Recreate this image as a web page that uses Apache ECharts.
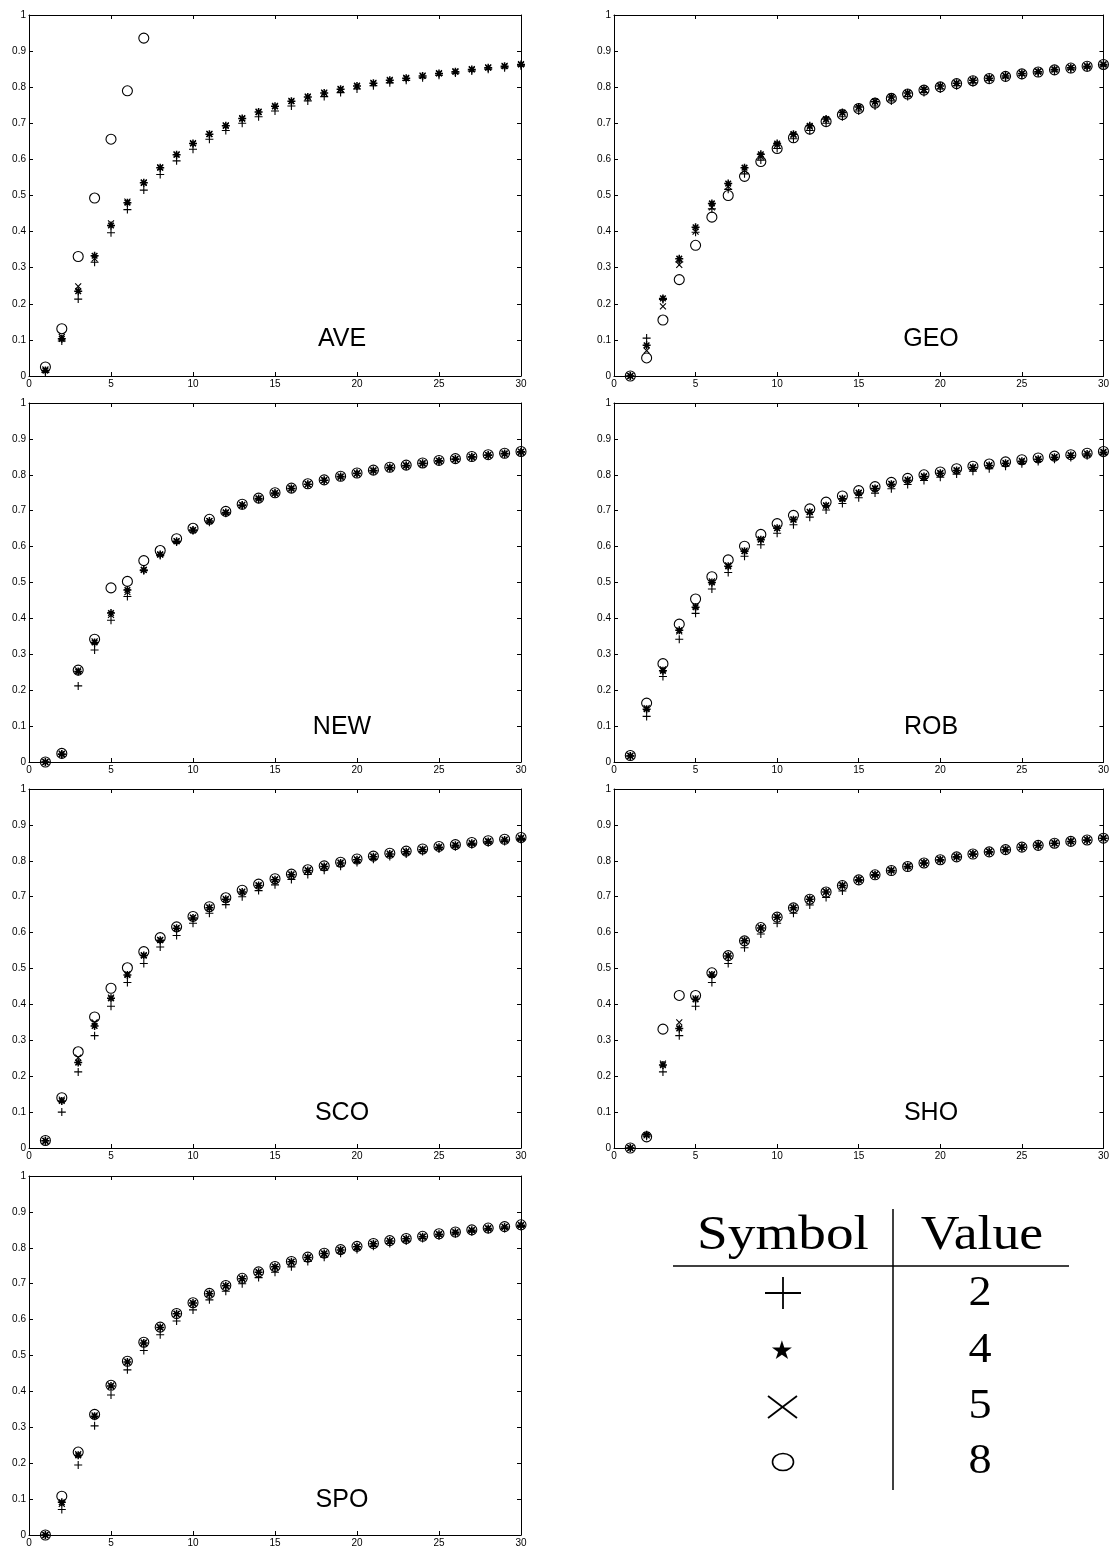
<!DOCTYPE html>
<html>
<head>
<meta charset="utf-8">
<script src="https://cdn.jsdelivr.net/npm/echarts@6/dist/echarts.min.js"></script>
<style>
  html, body { margin: 0; padding: 0; background: #fff; }
  #chart { width: 1112px; height: 1548px; }
</style>
</head>
<body>
<div id="chart"></div>
<script>
// Fraction reached at each step k = 1..30, one list per method and symbol value.
const AVE_plus   = [0.010, 0.097, 0.213, 0.315, 0.397, 0.461, 0.515, 0.558, 0.596, 0.628, 0.656, 0.680, 0.700, 0.718, 0.734, 0.748, 0.762, 0.774, 0.785, 0.795, 0.804, 0.812, 0.819, 0.826, 0.833, 0.839, 0.845, 0.850, 0.854, 0.859];
const AVE_star   = [0.015, 0.103, 0.235, 0.333, 0.417, 0.480, 0.535, 0.577, 0.613, 0.644, 0.670, 0.693, 0.713, 0.731, 0.747, 0.761, 0.773, 0.784, 0.794, 0.803, 0.811, 0.819, 0.825, 0.831, 0.838, 0.843, 0.849, 0.854, 0.858, 0.863];
const AVE_cross  = [0.018, 0.108, 0.248, 0.325, 0.423, 0.483, 0.536, 0.578, 0.614, 0.645, 0.671, 0.694, 0.714, 0.732, 0.748, 0.762, 0.774, 0.785, 0.795, 0.804, 0.812, 0.820, 0.826, 0.832, 0.839, 0.844, 0.850, 0.855, 0.859, 0.864];
const AVE_circle = [0.025, 0.131, 0.331, 0.493, 0.656, 0.790, 0.936];

const GEO_plus   = [0.000, 0.105, 0.212, 0.316, 0.398, 0.463, 0.517, 0.560, 0.598, 0.630, 0.657, 0.680, 0.700, 0.718, 0.734, 0.748, 0.762, 0.774, 0.785, 0.795, 0.804, 0.812, 0.819, 0.826, 0.833, 0.839, 0.845, 0.850, 0.854, 0.859];
const GEO_star   = [0.000, 0.085, 0.215, 0.325, 0.412, 0.478, 0.533, 0.577, 0.614, 0.644, 0.670, 0.693, 0.712, 0.730, 0.745, 0.760, 0.773, 0.784, 0.794, 0.803, 0.811, 0.819, 0.825, 0.831, 0.838, 0.843, 0.849, 0.854, 0.858, 0.863];
const GEO_cross  = [0.000, 0.070, 0.193, 0.308, 0.400, 0.467, 0.525, 0.570, 0.608, 0.640, 0.668, 0.691, 0.711, 0.729, 0.745, 0.760, 0.773, 0.784, 0.794, 0.803, 0.811, 0.819, 0.825, 0.831, 0.838, 0.843, 0.849, 0.854, 0.858, 0.863];
const GEO_circle = [0.000, 0.050, 0.155, 0.267, 0.362, 0.440, 0.500, 0.553, 0.594, 0.630, 0.660, 0.684, 0.705, 0.724, 0.741, 0.756, 0.769, 0.781, 0.792, 0.801, 0.810, 0.818, 0.824, 0.830, 0.837, 0.842, 0.848, 0.853, 0.858, 0.863];

const NEW_plus   = [0.000, 0.021, 0.212, 0.312, 0.395, 0.461, 0.533, 0.575, 0.613, 0.644, 0.668, 0.693, 0.714, 0.732, 0.747, 0.761, 0.773, 0.784, 0.794, 0.803, 0.811, 0.819, 0.825, 0.831, 0.838, 0.843, 0.849, 0.854, 0.858, 0.863];
const NEW_star   = [0.000, 0.022, 0.252, 0.333, 0.415, 0.479, 0.535, 0.578, 0.615, 0.646, 0.671, 0.695, 0.716, 0.734, 0.749, 0.762, 0.774, 0.785, 0.795, 0.804, 0.812, 0.820, 0.826, 0.832, 0.839, 0.844, 0.850, 0.855, 0.859, 0.864];
const NEW_cross  = [0.000, 0.023, 0.255, 0.336, 0.410, 0.473, 0.535, 0.578, 0.615, 0.646, 0.671, 0.695, 0.716, 0.734, 0.749, 0.762, 0.774, 0.785, 0.795, 0.804, 0.812, 0.820, 0.826, 0.832, 0.839, 0.844, 0.850, 0.855, 0.859, 0.864];
const NEW_circle = [0.000, 0.024, 0.256, 0.342, 0.485, 0.503, 0.561, 0.589, 0.622, 0.651, 0.676, 0.698, 0.718, 0.735, 0.750, 0.763, 0.775, 0.786, 0.796, 0.805, 0.813, 0.821, 0.827, 0.833, 0.840, 0.845, 0.851, 0.856, 0.860, 0.865];

const ROB_plus   = [0.017, 0.127, 0.238, 0.342, 0.414, 0.482, 0.528, 0.573, 0.605, 0.637, 0.661, 0.682, 0.702, 0.720, 0.736, 0.749, 0.761, 0.773, 0.784, 0.793, 0.802, 0.810, 0.817, 0.824, 0.831, 0.837, 0.843, 0.848, 0.853, 0.858];
const ROB_star   = [0.017, 0.147, 0.254, 0.367, 0.431, 0.500, 0.545, 0.587, 0.619, 0.651, 0.675, 0.696, 0.714, 0.733, 0.749, 0.762, 0.774, 0.785, 0.795, 0.804, 0.812, 0.820, 0.826, 0.832, 0.838, 0.843, 0.849, 0.854, 0.858, 0.863];
const ROB_cross  = [0.017, 0.150, 0.258, 0.364, 0.434, 0.503, 0.548, 0.589, 0.621, 0.652, 0.676, 0.697, 0.715, 0.734, 0.750, 0.763, 0.775, 0.786, 0.796, 0.805, 0.813, 0.821, 0.827, 0.833, 0.839, 0.844, 0.850, 0.855, 0.859, 0.864];
const ROB_circle = [0.018, 0.164, 0.274, 0.384, 0.454, 0.516, 0.563, 0.601, 0.634, 0.664, 0.687, 0.705, 0.724, 0.741, 0.756, 0.767, 0.779, 0.790, 0.800, 0.808, 0.817, 0.824, 0.830, 0.836, 0.842, 0.847, 0.852, 0.856, 0.860, 0.865];

const SCO_plus   = [0.020, 0.100, 0.212, 0.313, 0.395, 0.461, 0.514, 0.560, 0.592, 0.626, 0.654, 0.678, 0.700, 0.717, 0.733, 0.748, 0.762, 0.774, 0.785, 0.795, 0.804, 0.812, 0.819, 0.826, 0.833, 0.839, 0.845, 0.850, 0.854, 0.859];
const SCO_star   = [0.020, 0.131, 0.238, 0.340, 0.417, 0.482, 0.536, 0.579, 0.612, 0.641, 0.669, 0.693, 0.713, 0.731, 0.747, 0.761, 0.773, 0.784, 0.794, 0.803, 0.811, 0.819, 0.825, 0.831, 0.838, 0.843, 0.849, 0.854, 0.858, 0.863];
const SCO_cross  = [0.020, 0.135, 0.252, 0.350, 0.419, 0.484, 0.537, 0.580, 0.613, 0.642, 0.670, 0.694, 0.714, 0.732, 0.748, 0.762, 0.774, 0.785, 0.795, 0.804, 0.812, 0.820, 0.826, 0.832, 0.839, 0.844, 0.850, 0.855, 0.859, 0.864];
const SCO_circle = [0.021, 0.140, 0.268, 0.365, 0.445, 0.502, 0.547, 0.586, 0.616, 0.645, 0.672, 0.697, 0.718, 0.735, 0.750, 0.763, 0.775, 0.786, 0.796, 0.805, 0.813, 0.821, 0.827, 0.833, 0.840, 0.845, 0.851, 0.856, 0.860, 0.865];

const SHO_plus   = [0.000, 0.033, 0.212, 0.313, 0.395, 0.461, 0.514, 0.558, 0.596, 0.626, 0.654, 0.677, 0.698, 0.716, 0.745, 0.759, 0.772, 0.783, 0.793, 0.802, 0.810, 0.818, 0.824, 0.830, 0.837, 0.842, 0.848, 0.853, 0.857, 0.862];
const SHO_star   = [0.000, 0.037, 0.231, 0.333, 0.414, 0.482, 0.535, 0.577, 0.613, 0.643, 0.669, 0.693, 0.713, 0.731, 0.747, 0.761, 0.773, 0.784, 0.794, 0.803, 0.811, 0.819, 0.825, 0.831, 0.838, 0.843, 0.849, 0.854, 0.858, 0.863];
const SHO_cross  = [0.000, 0.035, 0.235, 0.350, 0.417, 0.484, 0.536, 0.578, 0.614, 0.644, 0.670, 0.694, 0.714, 0.732, 0.748, 0.762, 0.774, 0.785, 0.795, 0.804, 0.812, 0.820, 0.826, 0.832, 0.839, 0.844, 0.850, 0.855, 0.859, 0.864];
const SHO_circle = [0.000, 0.031, 0.331, 0.425, 0.425, 0.488, 0.536, 0.577, 0.614, 0.643, 0.669, 0.693, 0.713, 0.731, 0.747, 0.761, 0.773, 0.784, 0.794, 0.803, 0.811, 0.819, 0.825, 0.831, 0.838, 0.843, 0.849, 0.854, 0.858, 0.863];

const SPO_plus   = [0.000, 0.071, 0.195, 0.304, 0.390, 0.460, 0.514, 0.558, 0.596, 0.627, 0.655, 0.679, 0.700, 0.717, 0.732, 0.747, 0.762, 0.774, 0.785, 0.795, 0.804, 0.812, 0.819, 0.826, 0.833, 0.839, 0.845, 0.850, 0.854, 0.859];
const SPO_star   = [0.000, 0.091, 0.222, 0.331, 0.415, 0.482, 0.535, 0.578, 0.616, 0.646, 0.672, 0.694, 0.714, 0.732, 0.747, 0.761, 0.773, 0.784, 0.794, 0.803, 0.811, 0.819, 0.825, 0.831, 0.838, 0.843, 0.849, 0.854, 0.858, 0.863];
const SPO_cross  = [0.000, 0.087, 0.225, 0.333, 0.416, 0.483, 0.536, 0.579, 0.616, 0.646, 0.672, 0.694, 0.714, 0.732, 0.747, 0.761, 0.773, 0.784, 0.794, 0.803, 0.811, 0.819, 0.825, 0.831, 0.838, 0.843, 0.849, 0.854, 0.858, 0.863];
const SPO_circle = [0.000, 0.108, 0.231, 0.336, 0.417, 0.484, 0.537, 0.579, 0.617, 0.647, 0.673, 0.695, 0.715, 0.733, 0.748, 0.762, 0.774, 0.785, 0.795, 0.804, 0.812, 0.820, 0.826, 0.832, 0.839, 0.844, 0.850, 0.855, 0.859, 0.864];

const PANEL_NAMES = ['AVE', 'GEO', 'NEW', 'ROB', 'SCO', 'SHO', 'SPO'];
const X_TICKS = [0, 5, 10, 15, 20, 25, 30];
const Y_TICKS = [0, 0.1, 0.2, 0.3, 0.4, 0.5, 0.6, 0.7, 0.8, 0.9, 1];
const LEGEND_SYMBOLS = ['+', '\u2605', '\u00d7', '\u25cb'];
const LEGEND_VALUES = ['2', '4', '5', '8'];

const panelSeries = [
  [AVE_plus, AVE_star, AVE_cross, AVE_circle],
  [GEO_plus, GEO_star, GEO_cross, GEO_circle],
  [NEW_plus, NEW_star, NEW_cross, NEW_circle],
  [ROB_plus, ROB_star, ROB_cross, ROB_circle],
  [SCO_plus, SCO_star, SCO_cross, SCO_circle],
  [SHO_plus, SHO_star, SHO_cross, SHO_circle],
  [SPO_plus, SPO_star, SPO_cross, SPO_circle]
];

// Plot boxes: two columns, four rows.
const COL_LEFT = [29, 614];
const COL_WIDTH = [492, 493];
const ROW_TOP = [15, 403, 789, 1176];
const ROW_HEIGHT = [361, 359, 359, 359];

const MARKERS = [
  { symbol: 'path://M0,5L10,5M5,0L5,10', size: 8, width: 1.1 },                                 // +
  { symbol: 'path://M0,5L10,5M5,0L5,10M1.5,1.5L8.5,8.5M1.5,8.5L8.5,1.5', size: 8, width: 1.5 }, // *
  { symbol: 'path://M0,0L10,10M0,10L10,0', size: 6, width: 1.1 },                                // x
  { symbol: 'circle', size: 10, width: 1.1 }                                                     // o
];

const FONT = 'Liberation Sans, Arial, Helvetica, sans-serif';
const SERIF = 'Liberation Serif, DejaVu Serif, serif';

const grids = [], xAxes = [], yAxes = [], series = [], graphics = [];

PANEL_NAMES.forEach((name, p) => {
  const col = p % 2, row = Math.floor(p / 2);
  grids.push({ left: COL_LEFT[col], top: ROW_TOP[row], width: COL_WIDTH[col], height: ROW_HEIGHT[row],
               show: false, containLabel: false });
  const baseX = {
    gridIndex: p, type: 'value', min: X_TICKS[0], max: X_TICKS[X_TICKS.length - 1], interval: 5,
    axisLine: { show: true, onZero: false, lineStyle: { color: '#000', width: 1 } },
    axisTick: { show: true, inside: true, length: 4, lineStyle: { color: '#000', width: 1 } },
    splitLine: { show: false }
  };
  xAxes.push(Object.assign({}, baseX, { position: 'bottom',
    axisLabel: { show: true, fontSize: 10, color: '#000', margin: 3, fontFamily: FONT } }));
  xAxes.push(Object.assign({}, baseX, { position: 'top', axisLabel: { show: false } }));
  const baseY = {
    gridIndex: p, type: 'value', min: Y_TICKS[0], max: Y_TICKS[Y_TICKS.length - 1], interval: 0.1,
    axisLine: { show: true, onZero: false, lineStyle: { color: '#000', width: 1 } },
    axisTick: { show: true, inside: true, length: 4, lineStyle: { color: '#000', width: 1 } },
    splitLine: { show: false }
  };
  yAxes.push(Object.assign({}, baseY, { position: 'left',
    axisLabel: { show: true, fontSize: 10, color: '#000', margin: 3, fontFamily: FONT } }));
  yAxes.push(Object.assign({}, baseY, { position: 'right', axisLabel: { show: false } }));

  // circles first, then stars, crosses and pluses on top
  [3, 1, 2, 0].forEach(s => {
    const m = MARKERS[s];
    series.push({
      type: 'scatter', xAxisIndex: 2 * p, yAxisIndex: 2 * p,
      data: panelSeries[p][s].map((v, i) => [i + 1, v]),
      symbol: m.symbol, symbolSize: m.size, clip: false, silent: true,
      itemStyle: { color: 'rgba(0,0,0,0)', borderColor: '#000', borderWidth: m.width, opacity: 1 },
      emphasis: { disabled: true }
    });
  });

  graphics.push({
    type: 'text',
    x: COL_LEFT[col] + (col === 0 ? 313 : 317),
    y: ROW_TOP[row] + 324,
    style: { text: name, fontSize: 25, fontFamily: FONT, fill: '#000', align: 'center', verticalAlign: 'middle' }
  });
});

// Symbol / value table
graphics.push({ type: 'line', shape: { x1: 673, y1: 1266, x2: 1069, y2: 1266 }, style: { stroke: '#000', lineWidth: 1.5 } });
graphics.push({ type: 'line', shape: { x1: 893, y1: 1209, x2: 893, y2: 1490 }, style: { stroke: '#000', lineWidth: 1.5 } });
graphics.push({ type: 'text', x: 783, y: 1236, scaleX: 1.15, style: { text: 'Symbol', fontSize: 48, fontFamily: SERIF, fill: '#000', align: 'center', verticalAlign: 'middle' } });
graphics.push({ type: 'text', x: 982, y: 1236, scaleX: 1.12, style: { text: 'Value', fontSize: 48, fontFamily: SERIF, fill: '#000', align: 'center', verticalAlign: 'middle' } });
const ROW_Y = [1294, 1351, 1407, 1462];
LEGEND_VALUES.forEach((v, i) => {
  graphics.push({ type: 'text', x: 980, y: ROW_Y[i], scaleX: 1.1, style: { text: v, fontSize: 42, fontFamily: SERIF, fill: '#000', align: 'center', verticalAlign: 'middle' } });
});
// glyphs of the symbol column
graphics.push({ type: 'line', shape: { x1: 765, y1: 1293, x2: 801, y2: 1293 }, style: { stroke: '#000', lineWidth: 1.8 } });
graphics.push({ type: 'line', shape: { x1: 783, y1: 1277, x2: 783, y2: 1309 }, style: { stroke: '#000', lineWidth: 1.8 } });
graphics.push({ type: 'text', x: 782, y: 1352, style: { text: LEGEND_SYMBOLS[1], fontSize: 26, fontFamily: 'DejaVu Sans, sans-serif', fill: '#000', align: 'center', verticalAlign: 'middle' } });
graphics.push({ type: 'line', shape: { x1: 768, y1: 1396, x2: 797, y2: 1418 }, style: { stroke: '#000', lineWidth: 1.8 } });
graphics.push({ type: 'line', shape: { x1: 768, y1: 1418, x2: 797, y2: 1396 }, style: { stroke: '#000', lineWidth: 1.8 } });
graphics.push({ type: 'ellipse', shape: { cx: 783, cy: 1462, rx: 10.5, ry: 8.5 }, style: { fill: 'none', stroke: '#000', lineWidth: 1.6 } });

const chart = echarts.init(document.getElementById('chart'), null, { renderer: 'canvas' });
chart.setOption({
  animation: false,
  backgroundColor: '#fff',
  grid: grids,
  xAxis: xAxes,
  yAxis: yAxes,
  series: series,
  graphic: graphics
});
</script>
</body>
</html>
